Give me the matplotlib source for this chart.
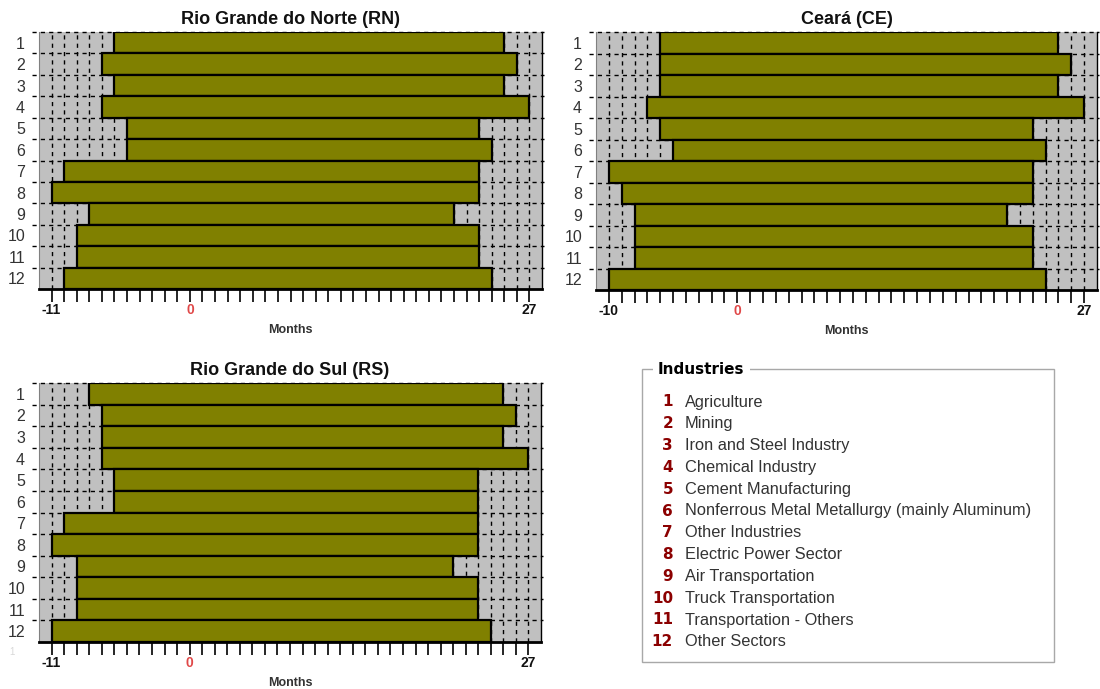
import matplotlib
matplotlib.use('Agg')
import numpy as np
import matplotlib.pyplot as plt
from matplotlib import transforms
from matplotlib.patches import Rectangle

plt.rcParams['font.family'] = ['Liberation Sans', 'DejaVu Sans']

W, H = 1100, 689

rows = list(range(1, 13))
industries = [
    "Agriculture",
    "Mining",
    "Iron and Steel Industry",
    "Chemical Industry",
    "Cement Manufacturing",
    "Nonferrous Metal Metallurgy (mainly Aluminum)",
    "Other Industries",
    "Electric Power Sector",
    "Air Transportation",
    "Truck Transportation",
    "Transportation - Others",
    "Other Sectors",
]

rn_start = [-6, -7, -6, -7, -5, -5, -10, -11, -8, -9, -9, -10]
rn_end = [25, 26, 25, 27, 23, 24, 23, 23, 21, 23, 23, 24]
ce_start = [-6, -6, -6, -7, -6, -5, -10, -9, -8, -8, -8, -10]
ce_end = [25, 26, 25, 27, 23, 24, 23, 23, 21, 23, 23, 24]
rs_start = [-8, -7, -7, -7, -6, -6, -10, -11, -9, -9, -9, -11]
rs_end = [25, 26, 25, 27, 23, 23, 23, 23, 21, 23, 23, 24]

fig = plt.figure(figsize=(11, 6.89), dpi=100)


def px_rect(x0, y0, x1, y1):
    return [x0 / W, 1 - y1 / H, (x1 - x0) / W, (y1 - y0) / H]


def draw(rect, title, starts, ends, xmin, xmax, first_tick, last_tick):
    ax = fig.add_axes(px_rect(*rect))
    ax.set_facecolor('#c0c0c0')
    widths = [e - s for s, e in zip(starts, ends)]
    ax.barh(rows, widths, left=starts, height=1.0, color='#808000',
            edgecolor='black', linewidth=1.6, zorder=3)
    ax.set_xlim(xmin, xmax)
    ax.set_ylim(12.5, 0.5)
    dash = (0, (3.0, 3.0))
    for v in range(int(np.floor(xmin)) + 1, int(np.ceil(xmax))):
        ax.axvline(v, color='black', lw=1.0, ls=dash, zorder=1)
    trans = transforms.blended_transform_factory(ax.transAxes, ax.transData)
    for b in np.arange(0.5, 12.5, 1.0):
        ax.plot([-0.013, 1.004], [b, b], transform=trans, color='black',
                lw=1.0, ls=dash, clip_on=False, zorder=2)
    ticks = list(range(first_tick, last_tick + 1))
    ax.set_xticks(ticks)
    labels = [str(t) if t in (first_tick, 0, last_tick) else '' for t in ticks]
    ax.set_xticklabels(labels)
    ax.tick_params(axis='x', length=9.4, width=1.2, pad=1, labelsize=10,
                   color='black')
    for lab, t in zip(ax.get_xticklabels(), ticks):
        lab.set_fontweight('bold')
        lab.set_color('#e04848' if t == 0 else '#111111')
    ax.set_yticks(rows)
    ax.set_yticklabels([str(r) for r in rows])
    ax.tick_params(axis='y', length=0, pad=10, labelsize=11.5, labelcolor='#333333')
    ax.spines['top'].set_visible(False)
    ax.spines['left'].set_color('#808080')
    ax.spines['left'].set_linewidth(0.8)
    ax.spines['right'].set_color('black')
    ax.spines['right'].set_linewidth(1.0)
    ax.spines['bottom'].set_color('black')
    ax.spines['bottom'].set_linewidth(2.0)
    ax.set_title(title, fontsize=13, fontweight='bold', pad=6, color='#111111')
    ax.set_xlabel('Months', fontsize=9, fontweight='bold', color='#333333',
                  labelpad=5)
    return ax


draw((39, 32, 542, 289), 'Rio Grande do Norte (RN)', rn_start, rn_end, -12, 28, -11, 27)
draw((596, 32, 1097, 290), 'Ceará (CE)', ce_start, ce_end, -11, 28, -10, 27)
draw((39, 383, 541, 642), 'Rio Grande do Sul (RS)', rs_start, rs_end, -12, 28, -11, 27)

# Legend box
fig.add_artist(Rectangle((642 / W, 1 - 662 / H), (1054 - 642) / W, (662 - 369) / H,
                         transform=fig.transFigure, fill=False,
                         edgecolor='#a8a8a8', lw=1))
fig.text(658 / W, 1 - 369 / H, 'Industries', fontsize=11, fontweight='bold',
         family=['DejaVu Sans'], ha='left', va='center', color='black',
         bbox=dict(facecolor='white', edgecolor='none', pad=4))
for i, name in enumerate(industries):
    y = 402 + i * 21.8
    fig.text(673 / W, 1 - y / H, str(i + 1), ha='right', va='center',
             color='#8b0000', fontweight='bold', fontsize=11,
             family=['DejaVu Sans'])
    fig.text(685 / W, 1 - y / H, name, ha='left', va='center',
             fontsize=11.8, color='#333333')

fig.text(12 / W, 1 - 652 / H, '1', fontsize=7, color='#d8d8d8', ha='center', va='center')

fig.savefig('out.png', dpi=100)
